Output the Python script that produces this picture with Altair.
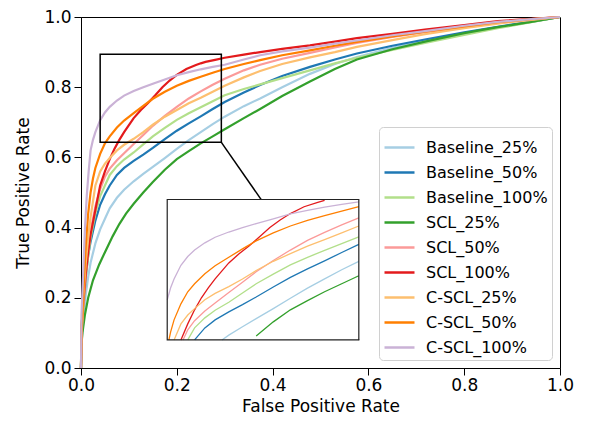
import altair as alt
import pandas as pd

labels = ["Baseline_25%", "Baseline_50%", "Baseline_100%", "SCL_25%", "SCL_50%",
          "SCL_100%", "C-SCL_25%", "C-SCL_50%", "C-SCL_100%"]
colors = ["#a6cee3", "#1f78b4", "#b2df8a", "#33a02c", "#fb9a99",
          "#e31a1c", "#fdbf6f", "#ff7f00", "#cab2d6"]

baseline_25_fpr = [0, 0.001, 0.005, 0.01, 0.015, 0.02, 0.03, 0.04, 0.05, 0.06, 0.075, 0.09, 0.1, 0.11, 0.13, 0.15, 0.175, 0.2, 0.225, 0.25, 0.275, 0.3, 0.34, 0.374, 0.42, 0.478, 0.53, 0.576, 0.65, 0.718, 0.8, 0.87, 0.94, 1.0]
baseline_25_tpr = [0, 0.07, 0.14, 0.21, 0.26, 0.3, 0.355, 0.395, 0.425, 0.455, 0.485, 0.508, 0.52, 0.532, 0.553, 0.573, 0.598, 0.624, 0.649, 0.672, 0.695, 0.716, 0.746, 0.768, 0.8, 0.838, 0.866, 0.886, 0.912, 0.932, 0.954, 0.971, 0.986, 1.0]

baseline_50_fpr = [0, 0.001, 0.005, 0.01, 0.015, 0.02, 0.03, 0.04, 0.05, 0.06, 0.075, 0.09, 0.11, 0.13, 0.15, 0.175, 0.2, 0.225, 0.25, 0.275, 0.3, 0.34, 0.374, 0.42, 0.478, 0.53, 0.576, 0.65, 0.718, 0.8, 0.87, 0.94, 1.0]
baseline_50_tpr = [0, 0.08, 0.17, 0.26, 0.32, 0.36, 0.42, 0.465, 0.495, 0.52, 0.55, 0.57, 0.59, 0.608, 0.627, 0.652, 0.676, 0.697, 0.717, 0.738, 0.758, 0.785, 0.806, 0.832, 0.858, 0.879, 0.896, 0.918, 0.936, 0.956, 0.972, 0.987, 1.0]

baseline_100_fpr = [0, 0.001, 0.005, 0.01, 0.015, 0.02, 0.03, 0.04, 0.05, 0.06, 0.075, 0.09, 0.11, 0.13, 0.15, 0.175, 0.2, 0.225, 0.25, 0.275, 0.3, 0.34, 0.374, 0.42, 0.478, 0.53, 0.576, 0.65, 0.718, 0.8, 0.87, 0.94, 1.0]
baseline_100_tpr = [0, 0.09, 0.17, 0.26, 0.32, 0.37, 0.44, 0.49, 0.52, 0.55, 0.575, 0.594, 0.614, 0.637, 0.66, 0.684, 0.707, 0.726, 0.743, 0.76, 0.777, 0.795, 0.808, 0.826, 0.848, 0.868, 0.884, 0.906, 0.926, 0.949, 0.968, 0.985, 1.0]

scl_25_fpr = [0, 0.0005, 0.003, 0.008, 0.015, 0.025, 0.038, 0.05, 0.066, 0.08, 0.094, 0.11, 0.13, 0.15, 0.175, 0.2, 0.225, 0.25, 0.275, 0.3, 0.34, 0.374, 0.42, 0.478, 0.53, 0.576, 0.65, 0.718, 0.8, 0.87, 0.94, 1.0]
scl_25_tpr = [0, 0.06, 0.1, 0.15, 0.2, 0.25, 0.295, 0.33, 0.375, 0.41, 0.44, 0.468, 0.5, 0.53, 0.565, 0.595, 0.618, 0.64, 0.66, 0.68, 0.712, 0.738, 0.775, 0.816, 0.852, 0.879, 0.908, 0.93, 0.954, 0.971, 0.986, 1.0]

scl_50_fpr = [0, 0.001, 0.005, 0.01, 0.015, 0.02, 0.03, 0.04, 0.043, 0.05, 0.06, 0.075, 0.09, 0.11, 0.13, 0.15, 0.175, 0.2, 0.225, 0.25, 0.275, 0.3, 0.34, 0.374, 0.42, 0.478, 0.53, 0.576, 0.65, 0.718, 0.8, 0.87, 0.94, 1.0]
scl_50_tpr = [0, 0.09, 0.18, 0.27, 0.34, 0.39, 0.46, 0.51, 0.52, 0.545, 0.568, 0.592, 0.612, 0.638, 0.664, 0.69, 0.718, 0.744, 0.768, 0.788, 0.807, 0.824, 0.848, 0.864, 0.881, 0.898, 0.913, 0.926, 0.943, 0.957, 0.972, 0.984, 0.993, 1.0]

scl_100_fpr = [0, 0.001, 0.005, 0.01, 0.015, 0.02, 0.03, 0.04, 0.05, 0.06, 0.07, 0.08, 0.09, 0.1, 0.11, 0.125, 0.14, 0.155, 0.17, 0.185, 0.2, 0.22, 0.24, 0.25, 0.26, 0.28, 0.3, 0.34, 0.374, 0.42, 0.478, 0.53, 0.576, 0.65, 0.718, 0.8, 0.87, 0.94, 1.0]
scl_100_tpr = [0, 0.12, 0.19, 0.27, 0.33, 0.38, 0.45, 0.52, 0.56, 0.595, 0.625, 0.65, 0.672, 0.692, 0.712, 0.735, 0.755, 0.777, 0.8, 0.819, 0.835, 0.852, 0.863, 0.868, 0.872, 0.878, 0.884, 0.893, 0.9, 0.909, 0.919, 0.93, 0.94, 0.952, 0.964, 0.977, 0.988, 0.995, 1.0]

cscl_25_fpr = [0, 0.001, 0.005, 0.01, 0.015, 0.02, 0.03, 0.04, 0.05, 0.06, 0.075, 0.09, 0.11, 0.13, 0.15, 0.175, 0.2, 0.225, 0.25, 0.275, 0.3, 0.34, 0.374, 0.42, 0.478, 0.53, 0.576, 0.65, 0.718, 0.8, 0.87, 0.94, 1.0]
cscl_25_tpr = [0, 0.1, 0.2, 0.3, 0.37, 0.43, 0.52, 0.56, 0.582, 0.598, 0.62, 0.636, 0.653, 0.672, 0.693, 0.716, 0.735, 0.754, 0.77, 0.787, 0.804, 0.828, 0.846, 0.866, 0.885, 0.9, 0.915, 0.934, 0.951, 0.968, 0.981, 0.992, 1.0]

cscl_50_fpr = [0, 0.001, 0.005, 0.01, 0.015, 0.02, 0.0225, 0.025, 0.03, 0.04, 0.05, 0.06, 0.075, 0.09, 0.11, 0.13, 0.15, 0.175, 0.2, 0.225, 0.25, 0.275, 0.3, 0.34, 0.374, 0.42, 0.478, 0.53, 0.576, 0.65, 0.718, 0.8, 0.87, 0.94, 1.0]
cscl_50_tpr = [0, 0.1, 0.22, 0.35, 0.44, 0.5, 0.52, 0.54, 0.57, 0.61, 0.64, 0.66, 0.685, 0.705, 0.726, 0.747, 0.767, 0.787, 0.804, 0.818, 0.83, 0.841, 0.852, 0.866, 0.877, 0.891, 0.905, 0.918, 0.929, 0.945, 0.958, 0.973, 0.985, 0.994, 1.0]

cscl_100_fpr = [0, 0.001, 0.004, 0.008, 0.012, 0.016, 0.02, 0.025, 0.03, 0.04, 0.05, 0.06, 0.075, 0.09, 0.11, 0.13, 0.15, 0.175, 0.2, 0.225, 0.25, 0.275, 0.3, 0.34, 0.374, 0.42, 0.478, 0.53, 0.576, 0.65, 0.718, 0.8, 0.87, 0.94, 1.0]
cscl_100_tpr = [0, 0.15, 0.25, 0.39, 0.49, 0.56, 0.62, 0.65, 0.672, 0.706, 0.728, 0.744, 0.762, 0.776, 0.789, 0.8, 0.81, 0.822, 0.834, 0.843, 0.851, 0.858, 0.864, 0.879, 0.891, 0.902, 0.913, 0.924, 0.933, 0.948, 0.96, 0.975, 0.986, 0.994, 1.0]

series_fpr = [baseline_25_fpr, baseline_50_fpr, baseline_100_fpr, scl_25_fpr, scl_50_fpr,
              scl_100_fpr, cscl_25_fpr, cscl_50_fpr, cscl_100_fpr]
series_tpr = [baseline_25_tpr, baseline_50_tpr, baseline_100_tpr, scl_25_tpr, scl_50_tpr,
              scl_100_tpr, cscl_25_tpr, cscl_50_tpr, cscl_100_tpr]

# zoom region marked on the main axes, and the limits shown inside the inset
zoom_box_fpr = [0.04, 0.293]
zoom_box_tpr = [0.643, 0.894]
inset_fpr_lim = [0.02, 0.3]
inset_tpr_lim = [0.52, 0.87]

rows = []
for name, fx, ty in zip(labels, series_fpr, series_tpr):
    for i, (a, b) in enumerate(zip(fx, ty)):
        rows.append({"model": name, "fpr": a, "tpr": b, "idx": i})
df = pd.DataFrame(rows)

# ---- layout (pixels) ----
W, H = 479, 351
INSET = [0.18, 0.08, 0.40, 0.40]  # axes-fraction placement of the inset
inset_x_range = [INSET[0] * W, (INSET[0] + INSET[2]) * W]
inset_y_range = [(1 - INSET[1]) * H, (1 - INSET[1] - INSET[3]) * H]

font = "DejaVu Sans"

xs = alt.Scale(domain=[0, 1], nice=False, zero=False)
ys = alt.Scale(domain=[0, 1], nice=False, zero=False)
cs = alt.Scale(domain=labels, range=colors)

lines = alt.Chart(df).mark_line(strokeWidth=2.2).encode(
    x=alt.X("fpr:Q", scale=xs, title="False Positive Rate",
            axis=alt.Axis(values=[0, 0.2, 0.4, 0.6, 0.8, 1.0], format=".1f",
                          labelPadding=2, titlePadding=5)),
    y=alt.Y("tpr:Q", scale=ys, title="True Positive Rate",
            axis=alt.Axis(values=[0, 0.2, 0.4, 0.6, 0.8, 1.0], format=".1f",
                          labelPadding=3, titlePadding=11)),
    color=alt.Color("model:N", scale=cs, sort=labels,
                    legend=alt.Legend(title=None, orient="bottom-right", offset=8,
                                      symbolType="stroke", symbolStrokeWidth=2.5,
                                      symbolSize=900, rowPadding=-4,
                                      labelFontSize=16, labelFont=font,
                                      labelColor="black", labelOffset=10,
                                      fillColor="white", strokeColor="#d0d0d0",
                                      cornerRadius=4, padding=4)),
    order="idx:Q",
)

box_df = pd.DataFrame([{"x": zoom_box_fpr[0], "x2": zoom_box_fpr[1],
                        "y": zoom_box_tpr[0], "y2": zoom_box_tpr[1]}])
box = alt.Chart(box_df).mark_rect(filled=False, stroke="black", strokeWidth=1.5).encode(
    x=alt.X("x:Q", scale=xs), x2="x2", y=alt.Y("y:Q", scale=ys), y2="y2")

conn_df = pd.DataFrame([{"x": zoom_box_fpr[1], "y": zoom_box_tpr[0],
                         "x2": INSET[0] + INSET[2], "y2": INSET[1]}])
conn = alt.Chart(conn_df).mark_rule(stroke="black", strokeWidth=1.5).encode(
    x=alt.X("x:Q", scale=xs), x2="x2", y=alt.Y("y:Q", scale=ys), y2="y2")

main = alt.layer(lines, box, conn)

ixs = alt.Scale(domain=inset_fpr_lim, range=inset_x_range, nice=False, zero=False)
iys = alt.Scale(domain=inset_tpr_lim, range=inset_y_range, nice=False, zero=False)

frame_df = pd.DataFrame([{"x": inset_fpr_lim[0], "x2": inset_fpr_lim[1],
                          "y": inset_tpr_lim[0], "y2": inset_tpr_lim[1]}])
inset_bg = alt.Chart(frame_df).mark_rect(color="white").encode(
    x=alt.X("x:Q", scale=ixs, axis=None), x2="x2",
    y=alt.Y("y:Q", scale=iys, axis=None), y2="y2")

eps = 1e-9
flt = (f"datum.fpr >= {inset_fpr_lim[0] - eps} && datum.fpr <= {inset_fpr_lim[1] + eps} && "
       f"datum.tpr >= {inset_tpr_lim[0] - eps} && datum.tpr <= {inset_tpr_lim[1] + eps}")
inset_lines = alt.Chart(df).transform_filter(flt).mark_line(strokeWidth=1.3).encode(
    x=alt.X("fpr:Q", scale=ixs, axis=None),
    y=alt.Y("tpr:Q", scale=iys, axis=None),
    color=alt.Color("model:N", scale=cs, sort=labels, legend=None),
    order="idx:Q",
)
inset_frame = alt.Chart(frame_df).mark_rect(filled=False, stroke="#222222", strokeWidth=1.2).encode(
    x=alt.X("x:Q", scale=ixs, axis=None), x2="x2",
    y=alt.Y("y:Q", scale=iys, axis=None), y2="y2")

inset = alt.layer(inset_bg, inset_lines, inset_frame)

chart = alt.layer(main, inset).resolve_scale(
    x="independent", y="independent", color="independent"
).properties(
    width=W, height=H,
    autosize=alt.AutoSizeParams(type="none"),
    padding={"left": 73, "top": 9, "right": 20, "bottom": 55},
).configure_view(
    stroke="black", strokeWidth=1
).configure_axis(
    labelFont=font, titleFont=font, labelFontSize=17, titleFontSize=17,
    titleFontWeight="normal", labelColor="black", titleColor="black",
    tickColor="black", domainColor="black", tickSize=7, grid=False,
    labelFlush=False,
)

chart.save("out.html", embed_options={"renderer": "svg", "actions": False})
